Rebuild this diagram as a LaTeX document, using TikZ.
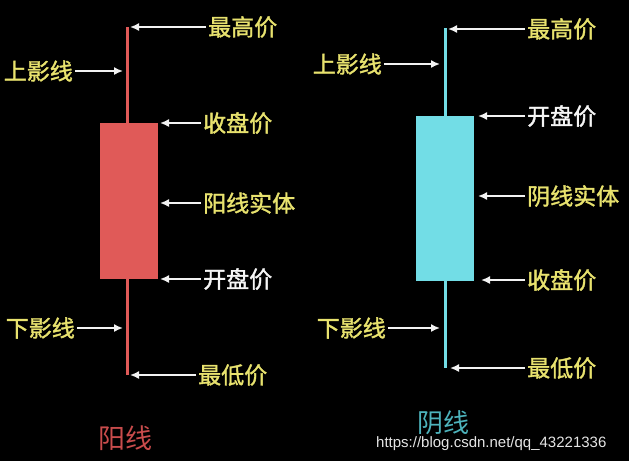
\documentclass[tikz,border=0pt]{standalone}
\usepackage{fontspec}
\usetikzlibrary{arrows.meta}
\newfontfamily\cjk[AutoFakeBold=1.5]{Noto Sans CJK SC}
\newfontfamily\wmfont{Liberation Sans}
\definecolor{yang}{HTML}{E05A58}
\definecolor{yin}{HTML}{72DDE6}
\definecolor{lbl}{HTML}{E8E26E}
\definecolor{yangtxt}{HTML}{C94C4C}
\definecolor{yintxt}{HTML}{4DB3BC}
\tikzset{
  lbl/.style={font=\cjk\bfseries\fontsize{23}{23}\selectfont,text=lbl,inner sep=2pt},
  ptr/.style={draw=white!90!gray,line width=1.6pt,-{Latex[length=9pt,width=8pt]}}
}

\begin{document}
\begin{tikzpicture}[x=1pt,y=-1pt]
    \fill[black] (0,0) rectangle (629,461);
    \useasboundingbox (0,0) rectangle (629,461);
    % red candle
    \fill[yang] (125.5,27) rectangle (128.5,375);
    \fill[yang] (100,123) rectangle (158,279);
    \coordinate (lhightip) at (130,27);
    \coordinate (luptip) at (123,71);
    \coordinate (lclosetip) at (160,123);
    \coordinate (lbodytip) at (160,203);
    \coordinate (lopentip) at (160,279);
    \coordinate (ldowntip) at (123,328);
    \coordinate (llowtip) at (130,375);
    \node[lbl,anchor=west] (lhigh) at (206,27) {最高价};
    \node[lbl,anchor=east] (lup) at (75,71) {上影线};
    \node[lbl,anchor=west] (lclose) at (201,123) {收盘价};
    \node[lbl,anchor=west] (lbody) at (201,203) {阳线实体};
    \node[lbl,anchor=west,text=white!92!gray] (lopen) at (201,279) {开盘价};
    \node[lbl,anchor=east] (ldown) at (77,328) {下影线};
    \node[lbl,anchor=west] (llow) at (196,375) {最低价};
    \draw[ptr] (lhigh.west) -- (lhightip);
    \draw[ptr] (lup.east) -- (luptip);
    \draw[ptr] (lclose.west) -- (lclosetip);
    \draw[ptr] (lbody.west) -- (lbodytip);
    \draw[ptr] (lopen.west) -- (lopentip);
    \draw[ptr] (ldown.east) -- (ldowntip);
    \draw[ptr] (llow.west) -- (llowtip);
    \node[lbl,text=yangtxt,font=\cjk\fontsize{27}{27}\selectfont] (yangname) at (125,438) {阳线};
    % cyan candle
    \fill[yin] (443.5,28) rectangle (446.5,368);
    \fill[yin] (416,116) rectangle (474,281);
    \coordinate (rhightip) at (448,29);
    \coordinate (ruptip) at (440,64);
    \coordinate (ropentip) at (478,116);
    \coordinate (rbodytip) at (478,196);
    \coordinate (rclosetip) at (481,280);
    \coordinate (rdowntip) at (440,328);
    \coordinate (rlowtip) at (450,368);
    \node[lbl,anchor=west] (rhigh) at (525,29) {最高价};
    \node[lbl,anchor=east] (rup) at (384,64) {上影线};
    \node[lbl,anchor=west,text=white!92!gray] (ropen) at (525,116) {开盘价};
    \node[lbl,anchor=west] (rbody) at (525,196) {阴线实体};
    \node[lbl,anchor=west] (rclose) at (525,280) {收盘价};
    \node[lbl,anchor=east] (rdown) at (388,328) {下影线};
    \node[lbl,anchor=west] (rlow) at (525,368) {最低价};
    \draw[ptr] (rhigh.west) -- (rhightip);
    \draw[ptr] (rup.east) -- (ruptip);
    \draw[ptr] (ropen.west) -- (ropentip);
    \draw[ptr] (rbody.west) -- (rbodytip);
    \draw[ptr] (rclose.west) -- (rclosetip);
    \draw[ptr] (rdown.east) -- (rdowntip);
    \draw[ptr] (rlow.west) -- (rlowtip);
    \node[lbl,text=yintxt,font=\cjk\fontsize{26}{26}\selectfont] (yinname) at (443,423) {阴线};
    \node[font=\wmfont\fontsize{15}{15}\selectfont,text=white!80!gray,anchor=west,inner sep=0pt] (mark) at (376,444) {https://blog.csdn.net/qq\_43221336};
\end{tikzpicture}
\end{document}
